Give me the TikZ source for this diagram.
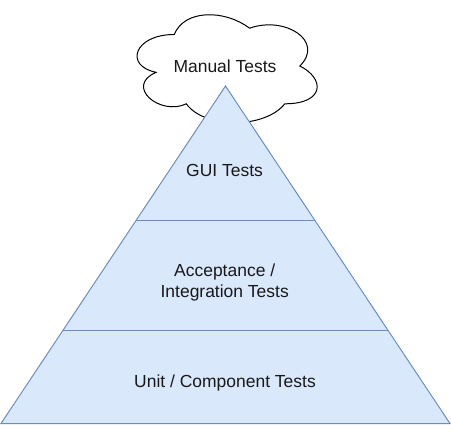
\documentclass[tikz,border=0pt]{standalone}
\usepackage{fontspec}
\setmainfont{Liberation Sans}
\usepackage{xcolor}
\usetikzlibrary{positioning,calc}

\definecolor{layerfill}{HTML}{DAE8FC}
\definecolor{layerline}{HTML}{6C8EBF}

\tikzset{
  layer/.style={draw=layerline, fill=layerfill, line width=0.75pt},
  layertext/.style={inner sep=0pt, text=black!90, font=\fontsize{13.1}{15.6}\selectfont},
}

\begin{document}
\begin{tikzpicture}[x=0.75pt, y=-0.75pt]
    \useasboundingbox (0,0) rectangle (451,425);

    % Cloud
    \draw[black, fill=white, line width=0.75pt]
      (174.25,34.5) .. controls (134.05,34.5) and (124,66) .. (156.16,72.3)
      .. controls (124,86.16) and (160.18,116.4) .. (186.31,103.8)
      .. controls (204.4,129) and (264.7,129) .. (284.8,103.8)
      .. controls (325,103.8) and (325,78.6) .. (299.88,66)
      .. controls (325,40.8) and (284.8,15.6) .. (249.63,28.2)
      .. controls (224.5,9.3) and (184.3,9.3) .. (174.25,34.5) -- cycle;
    \node[layertext, anchor=base] (manual) at (225,72.7) {Manual Tests};

    % Pyramid
    \coordinate (apex) at (225.5,86);
    \coordinate (baseleft) at (1,423.5);
    \coordinate (baseright) at (450,423.5);
    \draw[layer] (apex) -- (baseleft) -- (baseright) -- cycle;

    % Layers
    \coordinate (guileft) at ($(apex)!{134/337.5}!(baseleft)$);
    \coordinate (guiright) at ($(apex)!{134/337.5}!(baseright)$);
    \coordinate (accleft) at ($(apex)!{244/337.5}!(baseleft)$);
    \coordinate (accright) at ($(apex)!{244/337.5}!(baseright)$);
    \draw[layer] (guileft) -- (guiright);
    \draw[layer] (accleft) -- (accright);

    % Labels
    \node[layertext, anchor=base] (gui) at (224.5,176.7) {GUI Tests};
    \node[layertext, align=center] (acceptance) at (224.7,282.5) {Acceptance /\\Integration Tests};
    \node[layertext, anchor=base] (unit) at (225,387.3) {Unit / Component Tests};
\end{tikzpicture}
\end{document}
